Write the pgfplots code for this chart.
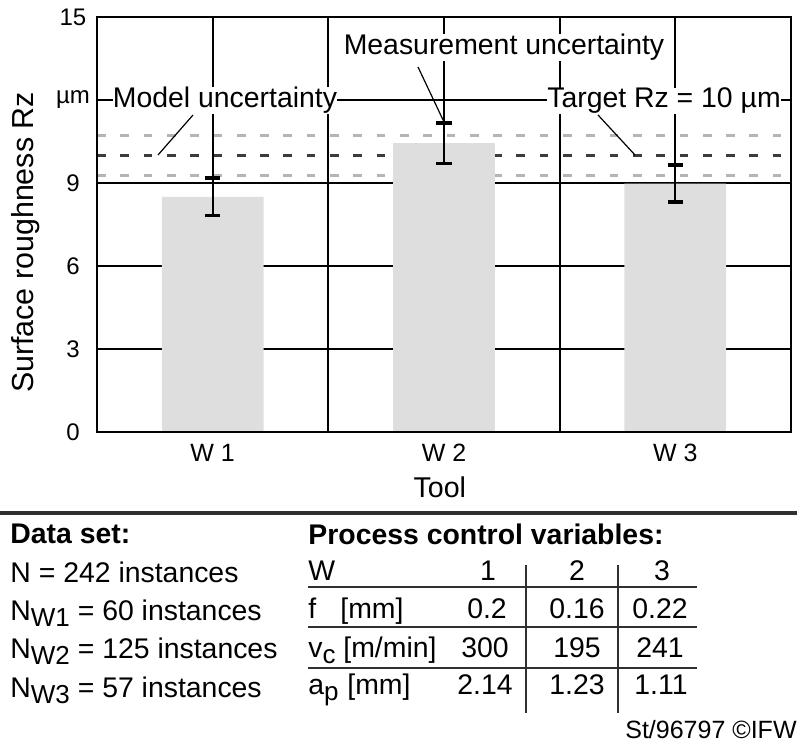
\documentclass[border=0pt]{standalone}
\usepackage{pgfplots}
\pgfplotsset{compat=1.18}
\usepackage{fontspec}
\setmainfont{Liberation Sans}
\definecolor{barg}{HTML}{DEDEDE}
\definecolor{dashlight}{HTML}{B4B4B4}
\definecolor{dashdark}{HTML}{3C3C3C}
\definecolor{rulec}{HTML}{303030}
\newcommand{\sub}[1]{\raisebox{-3.2pt}{\fontsize{13}{13}\selectfont #1}}
\begin{document}
\begin{tikzpicture}
\path[use as bounding box] (0,0) rectangle (400.5pt,-371pt);
\begin{axis}[
  at={(48.5pt,-216pt)}, anchor=south west,
  scale only axis, width=347pt, height=207.5pt,
  xmin=0.5, xmax=3.5, ymin=0, ymax=15,
  xtick={1,1.5,2,2.5,3}, xticklabels={W 1,,W 2,,W 3},
  ytick={0,3,6,9,12,15}, yticklabels={0,3,6,9,µm,15},
  grid=major, major grid style={black, line width=0.85pt},
  major tick length=0pt,
  axis line style={black, line width=1.1pt},
  xticklabel style={font=\fontsize{12.5}{14}\selectfont, yshift=-2.5pt},
  yticklabel style={font=\fontsize{12}{14}\selectfont, anchor=center, xshift=-12pt},
  xlabel={Tool}, ylabel={Surface roughness Rz},
  xlabel style={font=\fontsize{14.3}{17}\selectfont, at={(rel axis cs:0.494,-0.1335)}, anchor=center},
  ylabel style={font=\fontsize{15.2}{18}\selectfont, at={(rel axis cs:-0.1023,0.4566)}, anchor=center},
]
\addplot[dashlight, line width=1.65pt, dash pattern=on 4.35pt off 7.3pt] coordinates {(0.5,10.72) (3.5,10.72)};
\addplot[dashlight, line width=1.65pt, dash pattern=on 4.35pt off 7.3pt] coordinates {(0.5,9.28) (3.5,9.28)};
\addplot[dashdark, line width=1.65pt, dash pattern=on 4.35pt off 7.3pt] coordinates {(0.5,10) (3.5,10)};
\addplot[ybar, bar width=0.44, fill=barg, draw=none,
  error bars/.cd, y dir=both, y explicit,
  error bar style={black, line width=1pt},
  error mark options={black, rotate=90, mark size=3.9pt, line width=1.6pt}]
  coordinates {(1,8.5) +- (0,0.68) (2,10.44) +- (0,0.73) (3,8.98) +- (0,0.67)};
\draw[black, line width=1.1pt] (rel axis cs:0,0) rectangle (rel axis cs:1,1);
\end{axis}
\begin{scope}[x=0.5pt, y=-0.5pt, every node/.style={font=\fontsize{14.2}{17}\selectfont, inner sep=0pt}]
  % annotations
  \node[fill=white, anchor=base] at (225,108) {Model uncertainty};
  \node[fill=white, anchor=base] at (504,55) {Measurement uncertainty};
  \node[fill=white, anchor=base] at (664,108) {Target Rz = 10 µm};
  \draw[line width=0.6pt] (193,115) -- (158,155);
  \draw[line width=0.6pt] (418,67) -- (444,122);
  \draw[line width=0.6pt] (598,115) -- (635,155);
  % separator
  \draw[rulec, line width=2pt] (0,513) -- (797,513);
  % data set
  \node[anchor=base west] at (10,543) {\bfseries Data set:};
  \node[anchor=base west] at (10,582) {N = 242 instances};
  \node[anchor=base west] at (10,620) {N\sub{W1} = 60 instances};
  \node[anchor=base west] at (10,658) {N\sub{W2} = 125 instances};
  \node[anchor=base west] at (10,697) {N\sub{W3} = 57 instances};
  % process control variables
  \node[anchor=base west] at (308,544) {\bfseries Process control variables:};
  \node[anchor=base west] at (308,580) {W};
  \node[anchor=base] at (488,580) {1};
  \node[anchor=base] at (577,580) {2};
  \node[anchor=base] at (662,580) {3};
  \node[anchor=base west] at (308,618) {f};
  \node[anchor=base west] at (340,618) {[mm]};
  \node[anchor=base] at (487,618) {0.2};
  \node[anchor=base] at (577,618) {0.16};
  \node[anchor=base] at (660,618) {0.22};
  \node[anchor=base west] at (308,657) {v\sub{c}};
  \node[anchor=base west] at (343,657) {[m/min]};
  \node[anchor=base] at (485,657) {300};
  \node[anchor=base] at (577,657) {195};
  \node[anchor=base] at (660,657) {241};
  \node[anchor=base west] at (308,694) {a\sub{p}};
  \node[anchor=base west] at (347,694) {[mm]};
  \node[anchor=base] at (485,694) {2.14};
  \node[anchor=base] at (577,694) {1.23};
  \node[anchor=base] at (661,694) {1.11};
  \draw[rulec, line width=1.3pt] (308,587) -- (697,587);
  \draw[rulec, line width=1.3pt] (308,627) -- (697,627);
  \draw[rulec, line width=1.3pt] (308,668) -- (697,668);
  \draw[rulec, line width=1.3pt] (526,565) -- (526,713);
  \draw[rulec, line width=1.3pt] (618,565) -- (618,713);
  \node[anchor=base east, font=\fontsize{12.5}{14}\selectfont] at (797,738) {St/96797 ©IFW};
\end{scope}
\end{tikzpicture}
\end{document}
